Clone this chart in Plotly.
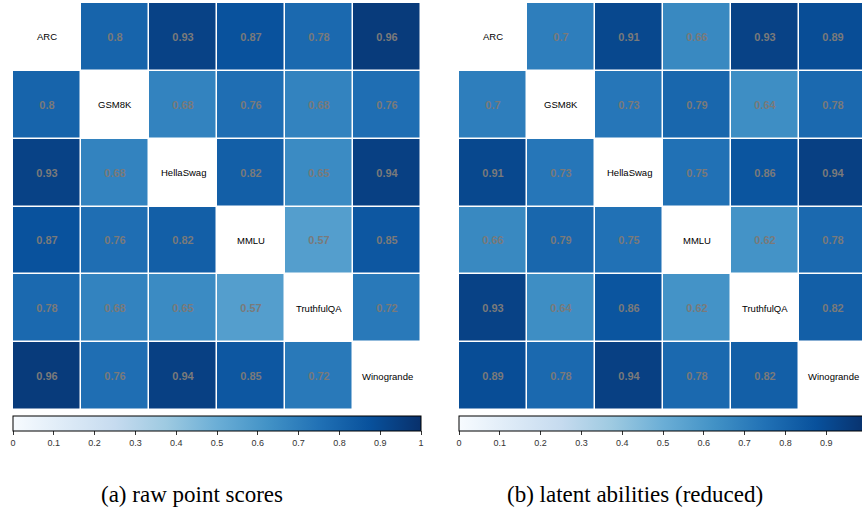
import plotly.graph_objects as go

benchmarks = ["ARC", "GSM8K", "HellaSwag", "MMLU", "TruthfulQA", "Winogrande"]

raw_scores = [
    [None, 0.80, 0.93, 0.87, 0.78, 0.96],
    [0.80, None, 0.68, 0.76, 0.68, 0.76],
    [0.93, 0.68, None, 0.82, 0.65, 0.94],
    [0.87, 0.76, 0.82, None, 0.57, 0.85],
    [0.78, 0.68, 0.65, 0.57, None, 0.72],
    [0.96, 0.76, 0.94, 0.85, 0.72, None],
]

latent_abilities = [
    [None, 0.70, 0.91, 0.66, 0.93, 0.89],
    [0.70, None, 0.73, 0.79, 0.64, 0.78],
    [0.91, 0.73, None, 0.75, 0.86, 0.94],
    [0.66, 0.79, 0.75, None, 0.62, 0.78],
    [0.93, 0.64, 0.86, 0.62, None, 0.82],
    [0.89, 0.78, 0.94, 0.78, 0.82, None],
]

captions = ["(a) raw point scores", "(b) latent abilities (reduced)"]
cbar_ticks_left = [0, 0.1, 0.2, 0.3, 0.4, 0.5, 0.6, 0.7, 0.8, 0.9, 1]
cbar_ticks_right = [0, 0.1, 0.2, 0.3, 0.4, 0.5, 0.6, 0.7, 0.8, 0.9]

W, H = 862, 514
SANS = "Liberation Sans, Arial, sans-serif"
SERIF = "Liberation Serif, Times New Roman, serif"

idx = list(range(len(benchmarks)))


def cbar(x0, ticks):
    return dict(
        orientation="h",
        x=x0 / W, xanchor="left",
        y=1 - 416 / H, yanchor="top",
        len=408, lenmode="pixels",
        thickness=15, thicknessmode="pixels",
        xpad=0, ypad=0,
        outlinecolor="black", outlinewidth=1,
        ticks="outside", ticklen=4, tickcolor="#333", tickwidth=1,
        tickvals=ticks, ticktext=[f"{t:g}" for t in ticks],
        tickfont=dict(family=SANS, size=9, color="#333"),
    )


fig = go.Figure()
for k, (data, x0, ticks) in enumerate([(raw_scores, 13, cbar_ticks_left),
                                        (latent_abilities, 459, cbar_ticks_right)]):
    fig.add_trace(go.Heatmap(
        z=data, x=idx, y=idx,
        colorscale="Blues", zmin=0, zmax=1,
        xgap=1.5, ygap=1.5,
        texttemplate="%{z}",
        textfont=dict(family=SANS, size=11, color="#7a7a7a", weight="bold"),
        colorbar=cbar(x0, ticks),
        hoverongaps=False,
        xaxis="x" if k == 0 else "x2",
        yaxis="y" if k == 0 else "y2",
    ))

annotations = []
for k in range(2):
    xr = "x" if k == 0 else "x2"
    yr = "y" if k == 0 else "y2"
    for i, name in enumerate(benchmarks):
        annotations.append(dict(
            x=i, y=i, xref=xr, yref=yr, text=name, showarrow=False,
            font=dict(family=SANS, size=9.5, color="black"),
        ))

for cx, text in zip([191.5, 634.5], captions):
    annotations.append(dict(
        x=cx / W, y=1 - 494 / H, xref="paper", yref="paper",
        xanchor="center", yanchor="middle", text=text, showarrow=False,
        font=dict(family=SERIF, size=23, color="black"),
    ))

ax_common = dict(showgrid=False, zeroline=False, showticklabels=False,
                 ticks="", showline=False)
ydom = [1 - 410 / H, 1 - 3 / H]
right_span = (W - 459) / 68.0

fig.update_layout(
    width=W, height=H,
    margin=dict(l=0, r=0, t=0, b=0, autoexpand=False),
    paper_bgcolor="white", plot_bgcolor="white",
    xaxis=dict(domain=[13 / W, 421 / W], range=[-0.5, 5.5], **ax_common),
    yaxis=dict(domain=ydom, range=[5.5, -0.5], **ax_common),
    xaxis2=dict(domain=[459 / W, 1.0], range=[-0.5, -0.5 + right_span], anchor="y2", **ax_common),
    yaxis2=dict(domain=ydom, range=[5.5, -0.5], anchor="x2", **ax_common),
    annotations=annotations,
    showlegend=False,
)

fig.write_html(
    "out.html",
    config={"displayModeBar": False},
    post_script="document.body.style.margin='0';document.body.style.overflow='hidden';",
)
